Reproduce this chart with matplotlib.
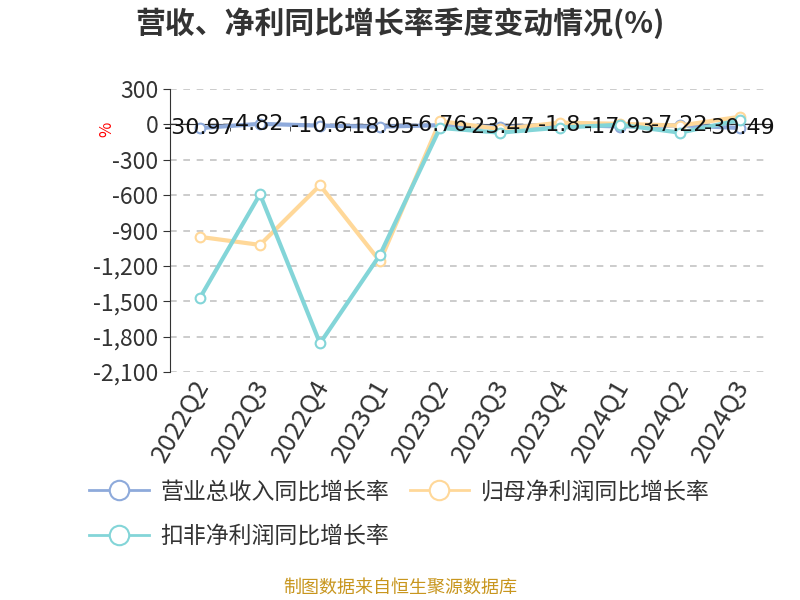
import numpy as np
import matplotlib.pyplot as plt
from matplotlib.ticker import FuncFormatter

plt.rcParams['font.family'] = ['Noto Sans CJK SC', 'DejaVu Sans']

# Datos
quarters = ['2022Q2', '2022Q3', '2022Q4', '2023Q1', '2023Q2',
            '2023Q3', '2023Q4', '2024Q1', '2024Q2', '2024Q3']
revenue = [-30.97, 4.82, -10.6, -18.95, -6.76, -23.47, -1.8, -17.93, -7.22, -30.49]
net_profit = [-954, -1022, -516, -1162, 28, -40, 15, 5, -10, 65]
deducted_profit = [-1471, -592, -1857, -1106, -30, -70, -27, -3, -70, 37]
series_names = ['营业总收入同比增长率', '归母净利润同比增长率', '扣非净利润同比增长率']
colors = ['#8eaadb', '#ffd899', '#83d5d8']
yticks = [300, 0, -300, -600, -900, -1200, -1500, -1800, -2100]

fig = plt.figure(figsize=(8, 6), dpi=100)
ax = fig.add_axes([0.2125, 0.38, 0.75, 0.4716])

x = np.arange(len(quarters))
lines = []
for vals, name, c in zip([revenue, net_profit, deducted_profit], series_names, colors):
    ln, = ax.plot(x, vals, color=c, lw=3, marker='o', ms=7, mfc='white', mec=c, mew=1.5,
                  label=name, zorder=3)
    lines.append(ln)

# Etiquetas de la serie de ingresos
for xi, v in zip(x, revenue):
    ax.text(xi, v, f'{v:g}', ha='center', va='center', fontsize=16,
            color='#111111', family=['DejaVu Sans'], zorder=5)

ax.set_xlim(-0.5, len(quarters) - 0.5)
ax.set_ylim(-2100, 300)
ax.set_yticks(yticks)
ax.yaxis.set_major_formatter(FuncFormatter(lambda v, p: f'{int(v):,}'))
ax.grid(axis='y', linestyle=(0, (4, 4)), color='#c4c4c4', lw=1.2)
ax.set_axisbelow(True)

for s in ['top', 'right']:
    ax.spines[s].set_visible(False)
ax.spines['bottom'].set_position(('data', 0))
ax.spines['bottom'].set_color('#333333')
ax.spines['left'].set_color('#333333')

ax.set_xticks(x)
ax.set_xticklabels([])
ax.set_xticks(np.arange(-0.5, len(quarters)), minor=True)
ax.tick_params(axis='x', which='major', length=0)
ax.tick_params(axis='x', which='minor', length=5, color='#333333')
ax.tick_params(axis='y', length=5, color='#333333', labelsize=16.5, labelcolor='#333333')

for xi, q in zip(x, quarters):
    ax.text(xi - 0.12, -2130, q, rotation=60, ha='right', va='top', fontsize=18.5,
            color='#333333', rotation_mode='anchor')

fig.text(0.133, 0.785, '%', color='red', fontsize=12, rotation=90, ha='center', va='center')

fig.text(0.5, 0.962, '营收、净利同比增长率季度变动情况(%)', ha='center', va='center',
         fontsize=21.5, fontweight='bold', color='#333333')

# Orden de la leyenda por filas: azul, naranja / cian
order = [0, 2, 1]
leg = fig.legend([lines[i] for i in order], [series_names[i] for i in order],
                 loc='upper left', bbox_to_anchor=(0.1, 0.215), ncol=2, frameon=False,
                 fontsize=16.5, handlelength=2.6, columnspacing=0.9, labelcolor='#333333',
                 handletextpad=0.5, labelspacing=0.95, borderaxespad=0)
for h in leg.legend_handles:
    h.set_markersize(14)
    h.set_linewidth(2)

fig.text(0.5, 0.02, '制图数据来自恒生聚源数据库', ha='center', va='center',
         fontsize=13, color='#c8961e')

plt.savefig('out.png', dpi=100)
